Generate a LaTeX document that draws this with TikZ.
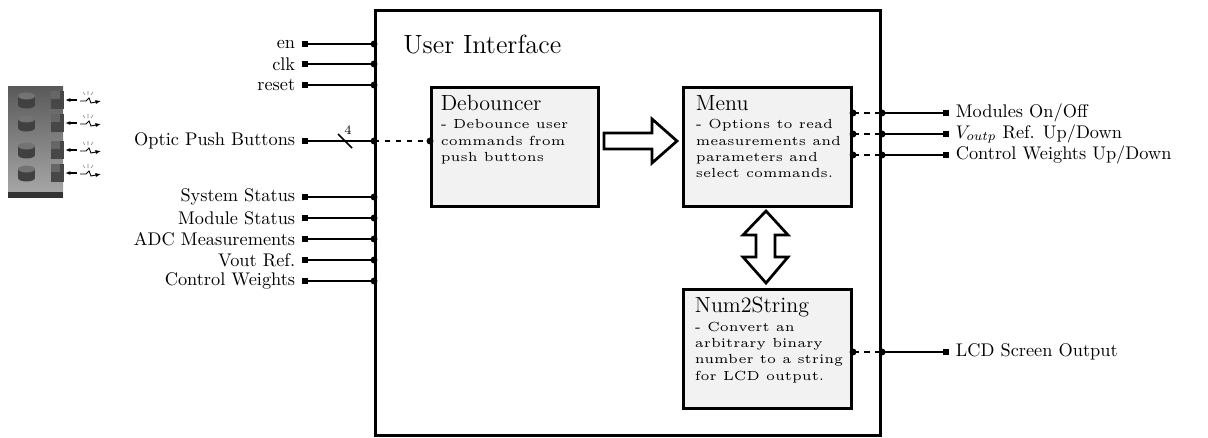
\documentclass[tikz,border=0pt]{standalone}
\usepackage{tikz}
\usetikzlibrary{arrows.meta}

% small-design face for the block descriptions
\font\descfont="[lmroman5-regular]" at 7.2pt

\tikzset{
  pin/.style={rectangle, fill=black, inner sep=0pt, minimum size=3.3pt},
  dot/.style={circle, fill=black, inner sep=0pt, minimum size=3.8pt},
  wire/.style={line width=0.8pt},
  blockbox/.style={draw, line width=1.5pt, fill=gray!10, anchor=north west,
                   inner sep=0pt, minimum height=2.28cm},
  blocktext/.style={anchor=north west, align=left, inner sep=0pt,
                    font={\descfont\baselineskip=9pt}},
  bigarrow/.style={draw, line width=1.5pt, fill=white, line join=miter},
}

\begin{document}
\begin{tikzpicture}[x=0.0192cm, y=-0.0192cm]
  \useasboundingbox (0,0) rectangle (1208,437);

  % optical push button board
  \shade[top color=black!65, bottom color=black!35] (8,86) rectangle (63,192);
  \fill[black!80] (8,192) rectangle (63,198);
  \foreach \c in {100,123,150,173} {
    \fill[black!75] (18,\c-4) rectangle (35,\c+5);
    \fill[black!75] (26.5,\c+5) ellipse [x radius=4.6pt, y radius=1.9pt];
    \fill[black!55] (26.5,\c-4) ellipse [x radius=4.6pt, y radius=1.9pt];
    \fill[black!72] (51,\c-9) rectangle (64,\c+9);
    \fill[black!60] (51,\c-9) rectangle (60,\c-1);
    \draw[-{Latex[length=3pt]}, line width=0.7pt] (77,\c) -- (65,\c);
    \draw[-{Latex[length=3pt]}, line width=0.5pt]
      (80,\c+1) -- (86,\c+1) -- (89,\c-2) -- (91,\c+3) -- (101,\c+1);
    \draw[black!50, line width=0.3pt]
      (88,\c-5) -- (88,\c-9) (85,\c-5) -- (83,\c-8) (91,\c-5) -- (93,\c-8);
  }

  % outer block
  \node[draw, line width=1.5pt, anchor=north west, inner sep=0pt,
        minimum width=9.70cm, minimum height=8.16cm] (ui) at (374,9) {};
  \node[anchor=west, inner sep=0pt, font=\Large] (uititle) at (403,44) {User Interface};

  % sub blocks
  \node[blockbox, minimum width=3.21cm] (deb) at (430,86) {};
  \node[blockbox, minimum width=3.23cm] (menu) at (682,86) {};
  \node[blockbox, minimum width=3.23cm] (numstr) at (682,288) {};

  \node[blocktext] (debtxt) at ([xshift=0.2cm, yshift=-0.17cm]deb.north west)
    {{\large Debouncer}\\[1pt]
     - Debounce user\\ commands from\\ push buttons};
  \node[blocktext] (menutxt) at ([xshift=0.26cm, yshift=-0.17cm]menu.north west)
    {{\large Menu}\\[1pt]
     - Options to read\\ measurements and\\ parameters and\\ select commands.};
  \node[blocktext] (numstrtxt) at ([xshift=0.24cm, yshift=-0.17cm]numstr.north west)
    {{\large Num2String}\\[1pt]
     - Convert an\\ arbitrary binary\\ number to a string\\ for LCD output.};

  % block arrows between sub blocks
  \draw[bigarrow] (604,133) -- (652,133) -- (652,119) -- (677,141)
    -- (652,163) -- (652,149) -- (604,149) -- cycle;
  \draw[bigarrow] (766,211) -- (788,235) -- (775,235) -- (775,257) -- (788,257)
    -- (766,283) -- (743,257) -- (756,257) -- (756,235) -- (743,235) -- cycle;

  % inputs
  \foreach \y/\name/\txt in {44/en/en, 64/clk/clk, 85/rst/reset,
      197/sys/System Status, 218/mod/Module Status, 239/adc/ADC Measurements,
      260/vref/Vout Ref., 281/cw/Control Weights} {
    \node[pin, label={[label distance=0pt]left:\txt}] (\name) at (305,\y) {};
    \draw[wire] (\name) -- (ui.west |- \name) node[dot] {};
  }

  \node[pin, label={[label distance=0pt]left:Optic Push Buttons}] (optic) at (305,141) {};
  \draw[wire] (optic) -- (ui.west |- optic) node[dot] {};
  \draw[wire, dashed] (ui.west |- optic) -- (deb.west |- optic) node[dot] {};
  \coordinate (slash) at (345,141);
  \draw[wire] ([shift={(-7,-7)}]slash) -- ([shift={(7,7)}]slash);
  \node[font=\scriptsize, inner sep=0pt] (width) at (348,130) {4};

  % outputs
  \foreach \y/\name/\txt in {113/onoff/{Modules On/Off},
      134/vup/{$V_{outp}$ Ref. Up/Down}, 155/cwup/{Control Weights Up/Down}} {
    \node[pin, label={[label distance=0pt]right:\txt}] (\name) at (946,\y) {};
    \draw[wire, dashed] (menu.east |- \name) node[dot] {} -- (ui.east |- \name) node[dot] {};
    \draw[wire] (ui.east |- \name) -- (\name);
  }

  \node[pin, label={[label distance=0pt]right:LCD Screen Output}] (lcd) at (946,352) {};
  \draw[wire, dashed] (numstr.east |- lcd) node[dot] {} -- (ui.east |- lcd) node[dot] {};
  \draw[wire] (ui.east |- lcd) -- (lcd);
\end{tikzpicture}
\end{document}
